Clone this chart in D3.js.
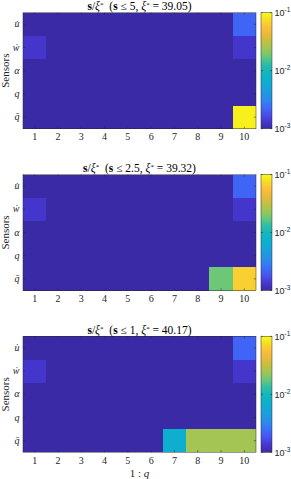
<!DOCTYPE html>
<html><head><meta charset="utf-8">
<script src="https://cdn.jsdelivr.net/npm/d3@7"></script>
<style>
html,body{margin:0;padding:0;background:#fff;}
svg{display:block;}
</style></head>
<body>
<svg id="c" width="291" height="479"></svg>
<script>
// ---- data ----
const sensors = ["u\u0307", "w\u0307", "\u03b1", "q", "q\u0304"];
const qTicks = [1,2,3,4,5,6,7,8,9,10];
const sLimits = ["5", "2.5", "1"];
const xiStar = ["39.05", "39.32", "40.17"];
const cbTicks = [1e-1, 1e-2, 1e-3];
const cbTickExp = ["-1", "-2", "-3"];
// rows: u̇, ẇ, α, q, q̄ ; columns q = 1..10
const panel1 = [
  [0.001,0.001,0.001,0.001,0.001,0.001,0.001,0.001,0.001,0.0022],
  [0.0013,0.001,0.001,0.001,0.001,0.001,0.001,0.001,0.001,0.0013],
  [0.001,0.001,0.001,0.001,0.001,0.001,0.001,0.001,0.001,0.001],
  [0.001,0.001,0.001,0.001,0.001,0.001,0.001,0.001,0.001,0.001],
  [0.001,0.001,0.001,0.001,0.001,0.001,0.001,0.001,0.001,0.09]
];
const panel2 = [
  [0.001,0.001,0.001,0.001,0.001,0.001,0.001,0.001,0.001,0.0022],
  [0.0013,0.001,0.001,0.001,0.001,0.001,0.001,0.001,0.001,0.0013],
  [0.001,0.001,0.001,0.001,0.001,0.001,0.001,0.001,0.001,0.001],
  [0.001,0.001,0.001,0.001,0.001,0.001,0.001,0.001,0.001,0.001],
  [0.001,0.001,0.001,0.001,0.001,0.001,0.001,0.001,0.018,0.066]
];
const panel3 = [
  [0.001,0.001,0.001,0.001,0.001,0.001,0.001,0.001,0.001,0.0022],
  [0.0013,0.001,0.001,0.001,0.001,0.001,0.001,0.001,0.001,0.0013],
  [0.001,0.001,0.001,0.001,0.001,0.001,0.001,0.001,0.001,0.001],
  [0.001,0.001,0.001,0.001,0.001,0.001,0.001,0.001,0.001,0.001],
  [0.001,0.001,0.001,0.001,0.001,0.001,0.0069,0.025,0.025,0.025]
];
const panels = [panel1, panel2, panel3];

// ---- parula-like colormap ----
const parulaStops = ["#3b2aa6","#4637cf","#4751ec","#3d6cf9","#2d87f0","#1f99e0","#15a8d4","#0bb2cc",
  "#16b6bc","#30bea4","#6ac878","#9dc558","#c4bf3d","#e9b93a","#fdbe3d","#f5dc2a","#f9fb15"];
const parula = d3.scaleLinear()
  .domain(parulaStops.map((_, i) => i / (parulaStops.length - 1)))
  .range(parulaStops).interpolate(d3.interpolateRgb).clamp(true);
const logT = d3.scaleLog().domain([1e-3, 1e-1]).range([0, 1]).clamp(true);
const color = v => parula(logT(v));

const svg = d3.select("#c");
const serif = "'Liberation Serif', 'DejaVu Serif', serif";
const sans = "'Liberation Sans', Arial, sans-serif";
const axisCol = "#262626";

const L = 23, R = 256, H = 116;
const tops = [12.7, 174.5, 336.3];
const cbX = 261, cbW = 11;

// gradient
const defs = svg.append("defs");
const grad = defs.append("linearGradient").attr("id", "pg")
  .attr("x1", 0).attr("y1", 1).attr("x2", 0).attr("y2", 0);
d3.range(0, 1.0001, 0.02).forEach(t => grad.append("stop").attr("offset", t).attr("stop-color", parula(t)));

panels.forEach((data, pi) => {
  const top = tops[pi];
  const x = d3.scaleBand().domain(qTicks).range([L, R]).padding(0);
  const y = d3.scaleBand().domain(sensors).range([top, top + H]).padding(0);
  const g = svg.append("g");
  const cells = [];
  data.forEach((row, ri) => row.forEach((v, ci) => cells.push({s: sensors[ri], q: qTicks[ci], v})));
  g.selectAll("rect.cell").data(cells).join("rect").attr("class", "cell")
    .attr("x", d => x(d.q)).attr("y", d => y(d.s))
    .attr("width", x.bandwidth()).attr("height", y.bandwidth())
    .attr("shape-rendering", "crispEdges")
    .attr("fill", d => color(d.v));
  // ticks inside: x at top & bottom, y at left & right
  const tl = 2.2;
  qTicks.forEach(q => {
    const cx = x(q) + x.bandwidth() / 2;
    g.append("line").attr("x1", cx).attr("x2", cx).attr("y1", top).attr("y2", top + tl).attr("stroke", axisCol).attr("stroke-width", 0.5);
    g.append("line").attr("x1", cx).attr("x2", cx).attr("y1", top + H).attr("y2", top + H - tl).attr("stroke", axisCol).attr("stroke-width", 0.5);
    g.append("text").attr("x", cx).attr("y", top + H + 11.5).attr("text-anchor", "middle")
      .attr("font-family", serif).attr("font-size", 10).attr("fill", axisCol).text(q);
  });
  sensors.forEach(s => {
    const cy = y(s) + y.bandwidth() / 2;
    g.append("line").attr("x1", L).attr("x2", L + tl).attr("y1", cy).attr("y2", cy).attr("stroke", axisCol).attr("stroke-width", 0.5);
    g.append("line").attr("x1", R).attr("x2", R - tl).attr("y1", cy).attr("y2", cy).attr("stroke", axisCol).attr("stroke-width", 0.5);
    g.append("text").attr("x", 19.5).attr("y", cy + 3).attr("text-anchor", "end")
      .attr("font-family", serif).attr("font-style", "italic").attr("font-size", 10).attr("fill", axisCol).text(s);
  });
  g.append("rect").attr("x", L).attr("y", top).attr("width", R - L).attr("height", H)
    .attr("fill", "none").attr("stroke", axisCol).attr("stroke-width", 0.6).attr("stroke-opacity", 0.8);

  // Sensors label
  g.append("text").attr("transform", `translate(8.5,${top + H / 2}) rotate(-90)`)
    .attr("text-anchor", "middle").attr("font-family", serif).attr("font-size", 11).attr("fill", axisCol).text("Sensors");

  // title
  const t = g.append("text").attr("x", (L + R) / 2).attr("y", top - 2.8).attr("text-anchor", "middle")
    .attr("font-family", serif).attr("font-size", 11.5).attr("fill", "#000");
  t.append("tspan").attr("font-weight", "bold").text("s");
  t.append("tspan").text("/");
  t.append("tspan").attr("font-style", "italic").text("\u03be");
  t.append("tspan").attr("font-size", 7).attr("dy", -2.8).text("*");
  t.append("tspan").attr("dy", 2.8).text("\u2002(");
  t.append("tspan").attr("font-weight", "bold").text("s");
  t.append("tspan").text(" \u2264 " + sLimits[pi] + ", ");
  t.append("tspan").attr("font-style", "italic").text("\u03be");
  t.append("tspan").attr("font-size", 7).attr("dy", -2.8).text("*");
  t.append("tspan").attr("dy", 2.8).text(" = " + xiStar[pi] + ")");

  // colorbar
  const cy = d3.scaleLog().domain([1e-3, 1e-1]).range([top + H, top]);
  g.append("rect").attr("x", cbX).attr("y", top).attr("width", cbW).attr("height", H).attr("fill", "url(#pg)");
  g.append("rect").attr("x", cbX).attr("y", top).attr("width", cbW).attr("height", H)
    .attr("fill", "none").attr("stroke", axisCol).attr("stroke-width", 0.6).attr("stroke-opacity", 0.8);
  cbTicks.forEach((v, i) => {
    const yy = cy(v);
    g.append("line").attr("x1", cbX).attr("x2", cbX + 2).attr("y1", yy).attr("y2", yy).attr("stroke", axisCol).attr("stroke-width", 0.5);
    g.append("line").attr("x1", cbX + cbW).attr("x2", cbX + cbW - 2).attr("y1", yy).attr("y2", yy).attr("stroke", axisCol).attr("stroke-width", 0.5);
    const lt = g.append("text").attr("x", cbX + cbW + 2.5).attr("y", yy + 3.5)
      .attr("font-family", sans).attr("font-size", 9).attr("fill", axisCol);
    lt.append("tspan").text("10");
    lt.append("tspan").attr("font-size", 6.5).attr("dy", -4).text(cbTickExp[i]);
  });
});

// x label
const xl = svg.append("text").attr("x", (L + R) / 2).attr("y", 477).attr("text-anchor", "middle")
  .attr("font-family", serif).attr("font-size", 11).attr("fill", axisCol);
xl.append("tspan").text("1 : ");
xl.append("tspan").attr("font-style", "italic").text("q");
</script>
</body></html>
